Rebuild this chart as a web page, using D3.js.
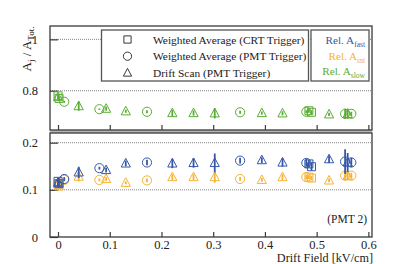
<!DOCTYPE html>
<html>
<head>
<meta charset="utf-8">
<script src="https://cdn.jsdelivr.net/npm/d3@7"></script>
<style>
  body { margin: 0; background: #fff; }
  svg text { font-family: "Liberation Serif", "DejaVu Serif", Times, serif !important; }
</style>
</head>
<body>
<div id="chart"></div>
<script>
// data
// drift scan (PMT trigger) -> triangles
var scanField = [0.0, 0.04, 0.093, 0.131, 0.221, 0.262, 0.303, 0.394, 0.434, 0.524, 0.56];
var scanSlow  = [0.775, 0.74, 0.73, 0.72, 0.713, 0.713, 0.712, 0.713, 0.712, 0.708, 0.71];
var scanSlowErr = [0.01, 0.018, 0.008, 0.006, 0.012, 0.01, 0.02, 0.006, 0.008, 0.006, 0.02];
var scanFast  = [0.115, 0.137, 0.142, 0.156, 0.156, 0.157, 0.157, 0.163, 0.158, 0.165, 0.158];
var scanFastErr = [0.01, 0.012, 0.005, 0.006, 0.01, 0.01, 0.02, 0.006, 0.009, 0.008, 0.02];
var scanInt   = [0.112, 0.128, 0.123, 0.115, 0.127, 0.127, 0.127, 0.121, 0.127, 0.12, 0.13];
var scanIntErr = [0.006, 0.01, 0.004, 0.003, 0.006, 0.006, 0.012, 0.004, 0.006, 0.004, 0.01];

// weighted average (PMT trigger) -> circles
var pmtField = [0.012, 0.08, 0.172, 0.352, 0.48, 0.555, 0.567];
var pmtSlow  = [0.757, 0.728, 0.718, 0.716, 0.718, 0.71, 0.71];
var pmtSlowErr = [0.004, 0.003, 0.006, 0.006, 0.006, 0.02, 0.008];
var pmtFast  = [0.123, 0.146, 0.158, 0.162, 0.157, 0.16, 0.158];
var pmtFastErr = [0.004, 0.003, 0.006, 0.006, 0.008, 0.026, 0.01];
var pmtInt   = [0.121, 0.121, 0.12, 0.123, 0.127, 0.13, 0.13];
var pmtIntErr = [0.003, 0.003, 0.004, 0.004, 0.005, 0.01, 0.006];

// weighted average (CRT trigger) -> squares
var crtField = [0.0, 0.002, 0.485, 0.49];
var crtSlow  = [0.78, 0.77, 0.722, 0.716];
var crtSlowErr = [0.008, 0.008, 0.008, 0.008];
var crtFast  = [0.118, 0.113, 0.155, 0.149];
var crtFastErr = [0.008, 0.008, 0.008, 0.008];
var crtInt   = [0.112, 0.108, 0.127, 0.125];
var crtIntErr = [0.004, 0.004, 0.004, 0.004];

var xTicks = [0, 0.1, 0.2, 0.3, 0.4, 0.5, 0.6];
var topTicks = [0.8, 1];
var botTicks = [0, 0.1, 0.2];
var legendLabels = ["Weighted Average (CRT Trigger)", "Weighted Average (PMT Trigger)", "Drift Scan (PMT Trigger)"];
var legendShapes = ["square", "circle", "triangle"];
var compNames = ["fast", "int", "slow"];

var blue = "#3558aa", orange = "#f7b232", green = "#5aad34", frameCol = "#3a3a3a";
var serif = "'Liberation Serif', 'DejaVu Serif', Times, serif";

var svgWidth = 415, svgHeight = 264;
var svg = d3.select("#chart").append("svg")
    .attr("width", svgWidth).attr("height", svgHeight);

var left = 50, right = 372;
var topPanel = {y0: 26, y1: 130};
var botPanel = {y0: 133, y1: 237};

var xScale = d3.scaleLinear().domain([-0.0155, 0.607]).range([left, right]);
var yTop = d3.scaleLinear().domain([0.647, 1.052]).range([topPanel.y1, topPanel.y0]);
var yBot = d3.scaleLinear().domain([0, 0.2205]).range([botPanel.y1, botPanel.y0]);

// gap between the panels
svg.append("rect").attr("x", left).attr("y", topPanel.y1)
    .attr("width", right - left).attr("height", botPanel.y0 - topPanel.y1)
    .attr("fill", "#b8b8b8");

// dotted grid
function grid(scale, vals) {
    svg.selectAll(null).data(vals).enter().append("line")
        .attr("x1", left).attr("x2", right)
        .attr("y1", d => scale(d)).attr("y2", d => scale(d))
        .attr("stroke", "#666").attr("stroke-width", 0.8)
        .attr("stroke-dasharray", "1,1");
}
grid(yTop, [0.8, 1]);
grid(yBot, [0.1, 0.2]);

// axes
var xAxisTop = d3.axisBottom(xScale).tickValues(xTicks).tickSize(-5).tickFormat("");
svg.append("g").attr("transform", `translate(0,${topPanel.y1})`).call(xAxisTop);
var xAxisBot = d3.axisBottom(xScale).tickValues(xTicks).tickSize(-5).tickPadding(3)
    .tickFormat(d => d === 0 ? "0" : d3.format(".1f")(d));
svg.append("g").attr("class", "xb").attr("transform", `translate(0,${botPanel.y1})`).call(xAxisBot);

var yAxisTop = d3.axisLeft(yTop).tickValues(topTicks).tickSize(-8).tickPadding(12)
    .tickFormat(d => d === 1 ? "1" : d3.format(".1f")(d));
svg.append("g").attr("transform", `translate(${left},0)`).call(yAxisTop);
var yAxisBot = d3.axisLeft(yBot).tickValues(botTicks).tickSize(-8).tickPadding(12)
    .tickFormat(d => d === 0 ? "0" : d3.format(".1f")(d));
svg.append("g").attr("transform", `translate(${left},0)`).call(yAxisBot);

svg.selectAll(".domain").remove();
svg.selectAll("g").attr("font-family", serif);
svg.selectAll(".tick line").attr("stroke", frameCol).attr("stroke-width", 1.2);
svg.selectAll(".tick text").attr("font-size", 12.5).attr("fill", "#222");

// frames
[topPanel, botPanel].forEach(p => {
    svg.append("rect").attr("x", left).attr("y", p.y0)
        .attr("width", right - left).attr("height", p.y1 - p.y0)
        .attr("fill", "none").attr("stroke", frameCol).attr("stroke-width", 1.3);
});

// markers
function shapePath(shape) {
    if (shape === "square") return d3.symbol(d3.symbolSquare, 64)();
    if (shape === "circle") return d3.symbol(d3.symbolCircle, 66)();
    return "M0,-5L4.6,3.6L-4.6,3.6Z";
}

function series(field, vals, errs, yScale, color, shape) {
    var g = svg.append("g");
    var pts = field.map((f, i) => ({x: f, y: vals[i], e: errs[i]}));
    g.selectAll(null).data(pts).enter().append("line")
        .attr("x1", d => xScale(d.x)).attr("x2", d => xScale(d.x))
        .attr("y1", d => yScale(d.y - d.e)).attr("y2", d => yScale(d.y + d.e))
        .attr("stroke", color).attr("stroke-width", 1.8);
    g.selectAll(null).data(pts).enter().append("path")
        .attr("d", shapePath(shape))
        .attr("transform", d => `translate(${xScale(d.x)},${yScale(d.y)})`)
        .attr("fill", "none").attr("stroke", color).attr("stroke-width", 1);
}

series(scanField, scanSlow, scanSlowErr, yTop, green, "triangle");
series(pmtField, pmtSlow, pmtSlowErr, yTop, green, "circle");
series(crtField, crtSlow, crtSlowErr, yTop, green, "square");

series(scanField, scanInt, scanIntErr, yBot, orange, "triangle");
series(pmtField, pmtInt, pmtIntErr, yBot, orange, "circle");
series(crtField, crtInt, crtIntErr, yBot, orange, "square");

series(scanField, scanFast, scanFastErr, yBot, blue, "triangle");
series(pmtField, pmtFast, pmtFastErr, yBot, blue, "circle");
series(crtField, crtFast, crtFastErr, yBot, blue, "square");

// legend 1
svg.append("rect").attr("x", 101.5).attr("y", 30).attr("width", 207).attr("height", 51)
    .attr("fill", "#fff").attr("stroke", "#555").attr("stroke-width", 1.3);
legendLabels.forEach((lab, i) => {
    var cy = 39.5 + i * 16.7;
    svg.append("path").attr("d", shapePath(legendShapes[i]))
        .attr("transform", `translate(127.5,${cy}) scale(0.9)`)
        .attr("fill", "none").attr("stroke", "#222").attr("stroke-width", 1);
    svg.append("text").attr("x", 153).attr("y", cy + 4)
        .attr("font-size", 11.4).attr("fill", "#222").text(lab);
});

// legend 2
svg.append("rect").attr("x", 311).attr("y", 30).attr("width", 58).attr("height", 51)
    .attr("fill", "#fff").attr("stroke", "#555").attr("stroke-width", 1.3);
[blue, orange, green].forEach((c, i) => {
    var t = svg.append("text").attr("x", 365).attr("y", 44 + i * 15.7)
        .attr("text-anchor", "end").attr("font-size", 11.2).attr("fill", c);
    t.append("tspan").text("Rel. A");
    t.append("tspan").attr("font-size", 7.5).attr("dy", 3).text(compNames[i]);
});

// y label
var yl = svg.append("text").attr("transform", "translate(31,49) rotate(-90)")
    .attr("text-anchor", "middle").attr("font-size", 13).attr("fill", "#222");
yl.append("tspan").text("A");
yl.append("tspan").attr("font-size", 9).attr("dy", 3).text("j");
yl.append("tspan").attr("dy", -3).text(" / A");
yl.append("tspan").attr("font-size", 9).attr("dy", 3).text("Tot.");

// x label
svg.append("text").attr("x", 373).attr("y", 262).attr("text-anchor", "end")
    .attr("font-size", 12.2).attr("fill", "#222").text("Drift Field [kV/cm]");

svg.append("text").attr("x", 367).attr("y", 223).attr("text-anchor", "end")
    .attr("font-size", 11.5).attr("fill", "#222").text("(PMT 2)");

svg.selectAll("text").attr("font-family", serif);
</script>
</body>
</html>
